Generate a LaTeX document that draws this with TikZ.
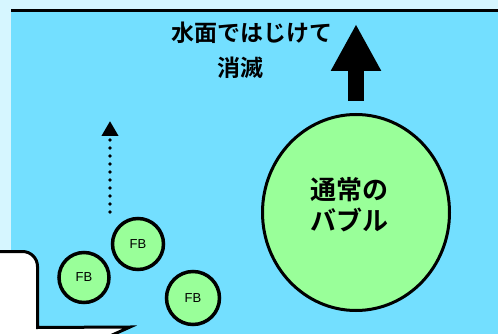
\documentclass[tikz,border=0pt]{standalone}
\usepackage{fontspec}
\setmainfont{Liberation Sans}
\newfontfamily\jpfont{Noto Sans CJK JP}[BoldFont={Noto Sans CJK JP Bold}]
\usetikzlibrary{arrows.meta,shapes.geometric}
\definecolor{skyback}{RGB}{214,246,255}
\definecolor{water}{RGB}{115,223,255}
\definecolor{bubgreen}{RGB}{153,255,153}

\begin{document}
\begin{tikzpicture}[x=1pt, y=-1pt,
  fb/.style={circle, draw, line width=3.5pt, fill=bubgreen, inner sep=0pt, font=\fontsize{13}{15}\selectfont},
  jp/.style={font=\jpfont\bfseries\fontsize{23}{28}\selectfont, inner sep=0pt},
  up/.style={line width=16pt, -{Triangle[width=47pt, length=47pt]}}
]
\useasboundingbox (0,0) rectangle (498,334);
\fill[skyback] (0,0) rectangle (498,334);
\fill[water] (11,10.5) rectangle (498,334);
\draw[line width=3pt] (11,10.5) -- (498,10.5);

% title
\node[jp] (t1) at (252,33) {水面ではじけて};
\node[jp] (t2) at (240,68) {消滅};

% big bubble
\node[ellipse, draw, line width=3pt, fill=bubgreen, minimum width=187pt, minimum height=196pt] (big) at (356,212.5) {};
\node[jp, font=\jpfont\bfseries\fontsize{26}{31}\selectfont, align=center] (bigtxt) at (349,205) {通常の\\バブル};
\coordinate (top) at (356,24);
\draw[up] ([yshift=12pt]big.north) -- (top);

% small bubbles
\node[fb, minimum size=51pt] (fb1) at (138,244) {FB};
\node[fb, minimum size=50pt] (fb2) at (84,277.5) {FB};
\node[fb, minimum size=53pt] (fb3) at (193,298) {FB};
\coordinate (rise) at (110,121);
\draw[line width=3.8pt, line cap=round, dash pattern=on 0pt off 8pt, -{Triangle[width=16pt, length=15pt]}] (110,212) -- (rise);

% speech box
\draw[line width=3pt, fill=white, line join=miter] (-10,251.5) [rounded corners=15pt] -- (37.5,251.5) -- (37.5,300) [sharp corners] -- (37.5,327.5) -- (130,327) -- (90,345) -- (-10,345) -- cycle;
\end{tikzpicture}
\end{document}
